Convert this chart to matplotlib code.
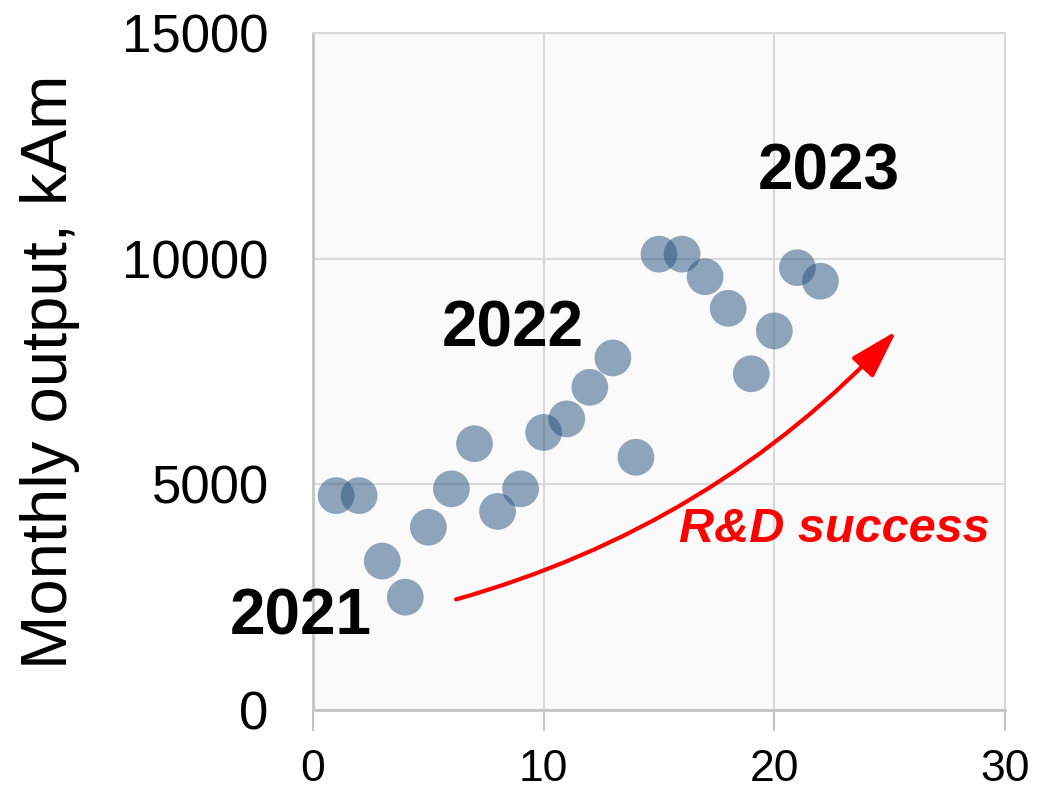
import matplotlib.pyplot as plt

# monthly points
month = [1, 2, 3, 4, 5, 6, 7, 8, 9, 10, 11, 12, 13, 14, 15, 16, 17, 18, 19, 20, 21, 22]
output_kam = [4750, 4750, 3300, 2500, 4050, 4900, 5900, 4400, 4900, 6150, 6450, 7150,
              7800, 5600, 10100, 10100, 9600, 8900, 7450, 8400, 9800, 9500]

year_labels = ['2021', '2022', '2023']
year_pos = [(-0.55, 2060), (8.65, 8420), (22.35, 11920)]

xticks = [0, 10, 20, 30]
yticks = [0, 5000, 10000, 15000]

fonts = ['Liberation Sans', 'DejaVu Sans']

fig = plt.figure(figsize=(10.4, 7.95), dpi=100)
ax = fig.add_axes([0.301, 0.1069, 0.6653, 0.8516])
ax.set_facecolor('#fafafa')

ax.scatter(month, output_kam, s=700, color='#24507e', alpha=0.5, edgecolors='none', zorder=3)

ax.set_xlim(0, 30)
ax.set_ylim(0, 15000)
ax.set_xticks(xticks)
ax.set_yticks(yticks)
ax.grid(True, color='#d9d9d9', linewidth=1.5, zorder=0)
ax.set_axisbelow(True)

for side in ['top', 'right']:
    ax.spines[side].set_color('#d9d9d9')
    ax.spines[side].set_linewidth(1.5)
for side in ['left', 'bottom']:
    ax.spines[side].set_color('#c4c4c4')
    ax.spines[side].set_linewidth(2)

ax.tick_params(axis='x', length=15, width=1.5, color='#c4c4c4', pad=13)
ax.tick_params(axis='y', length=0, pad=32)
for lab in ax.get_xticklabels():
    lab.set_family(fonts)
    lab.set_fontsize(32)
for lab in ax.get_yticklabels():
    lab.set_family(fonts)
    lab.set_fontsize(38)

ax.set_ylabel('Monthly output, kAm', family=fonts, fontsize=47, labelpad=30)

for lab, (x, y) in zip(year_labels, year_pos):
    ax.text(x, y, lab, family=fonts, fontsize=46, fontweight='bold',
            ha='center', va='center', zorder=5)

# R&D arrow
ax.annotate('', xy=(25.3, 8400), xytext=(6.2, 2450),
            arrowprops=dict(arrowstyle='-|>,head_length=1.0,head_width=0.3',
                            color='red', lw=3, mutation_scale=30,
                            connectionstyle='arc3,rad=0.14', shrinkA=0, shrinkB=0),
            zorder=4)
ax.text(22.6, 3990, 'R&D success', color='red', family=fonts, fontsize=35,
        fontweight='bold', fontstyle='italic', ha='center', va='center', zorder=5)

plt.savefig('out.png')
